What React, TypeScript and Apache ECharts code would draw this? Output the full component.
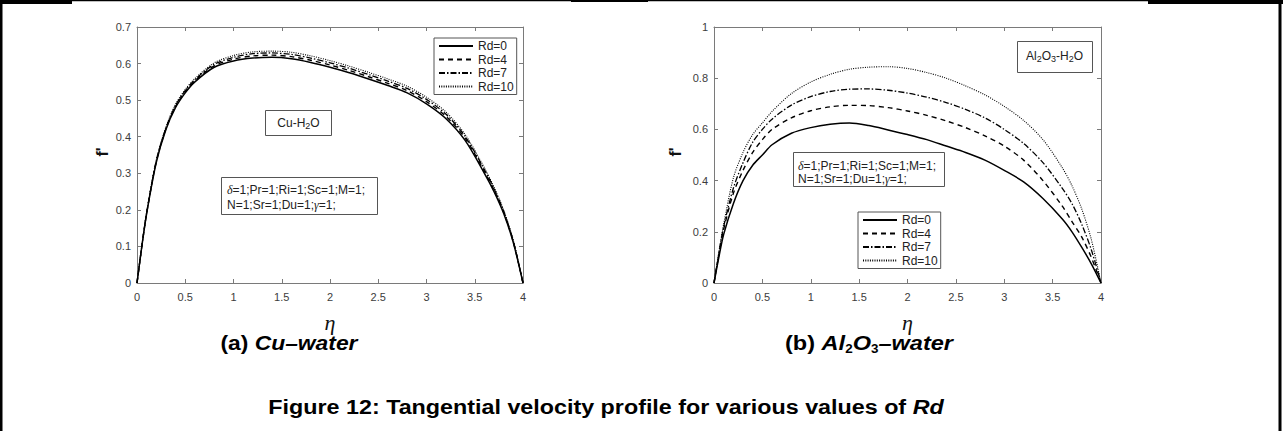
import React, { useEffect, useRef } from "react";
import * as echarts from "echarts";

// ---------- data ----------
const ETA = [0, 0.05, 0.1, 0.2, 0.3, 0.4, 0.5, 0.6, 0.8, 1.0, 1.2, 1.4, 1.6, 1.8, 2.0, 2.2, 2.4, 2.6, 2.8, 3.0, 3.2, 3.4, 3.6, 3.7, 3.8, 3.9, 4.0];
const RD_NAMES = ["Rd=0", "Rd=4", "Rd=7", "Rd=10"];

// (a) Cu-water
const CU_RD0 = [0, 0.1, 0.19, 0.33, 0.42, 0.48, 0.52, 0.55, 0.59, 0.607, 0.615, 0.617, 0.613, 0.603, 0.59, 0.575, 0.558, 0.54, 0.52, 0.49, 0.45, 0.39, 0.3, 0.25, 0.19, 0.11, 0];
const CU_RD4 = [0, 0.1, 0.191, 0.332, 0.422, 0.483, 0.523, 0.553, 0.594, 0.612, 0.621, 0.623, 0.619, 0.609, 0.596, 0.581, 0.564, 0.546, 0.526, 0.496, 0.456, 0.396, 0.305, 0.254, 0.193, 0.112, 0];
const CU_RD7 = [0, 0.1, 0.192, 0.334, 0.424, 0.486, 0.526, 0.556, 0.598, 0.617, 0.627, 0.629, 0.625, 0.615, 0.602, 0.587, 0.57, 0.552, 0.532, 0.502, 0.462, 0.401, 0.31, 0.258, 0.196, 0.114, 0];
const CU_RD10 = [0, 0.1, 0.193, 0.336, 0.426, 0.489, 0.529, 0.559, 0.602, 0.622, 0.632, 0.634, 0.631, 0.621, 0.608, 0.593, 0.576, 0.558, 0.538, 0.508, 0.468, 0.406, 0.315, 0.262, 0.199, 0.116, 0];

// (b) Al2O3-water
const AL_RD0 = [0, 0.1, 0.19, 0.31, 0.4, 0.46, 0.5, 0.54, 0.585, 0.607, 0.62, 0.625, 0.615, 0.598, 0.58, 0.56, 0.535, 0.51, 0.48, 0.44, 0.395, 0.33, 0.25, 0.2, 0.14, 0.075, 0];
const AL_RD4 = [0, 0.11, 0.21, 0.35, 0.44, 0.51, 0.56, 0.6, 0.645, 0.673, 0.688, 0.694, 0.693, 0.685, 0.672, 0.655, 0.633, 0.607, 0.575, 0.535, 0.48, 0.4, 0.3, 0.24, 0.18, 0.1, 0];
const AL_RD7 = [0, 0.115, 0.22, 0.37, 0.47, 0.55, 0.6, 0.64, 0.695, 0.728, 0.748, 0.757, 0.758, 0.753, 0.742, 0.726, 0.705, 0.678, 0.645, 0.6, 0.545, 0.47, 0.37, 0.31, 0.23, 0.13, 0];
const AL_RD10 = [0, 0.12, 0.23, 0.41, 0.51, 0.58, 0.625, 0.67, 0.74, 0.785, 0.815, 0.835, 0.843, 0.845, 0.838, 0.822, 0.8, 0.77, 0.735, 0.69, 0.635, 0.56, 0.45, 0.38, 0.29, 0.17, 0];

const X_MIN = 0;
const X_MAX = 4;
const X_STEP = 0.5;
const CU_Y_MAX = 0.7;
const CU_Y_STEP = 0.1;
const AL_Y_MAX = 1;
const AL_Y_STEP = 0.2;

// ---------- styles ----------
const SANS = '"Liberation Sans", Arial, Helvetica, sans-serif';
const NARROW = '"Liberation Sans Narrow", "Liberation Sans", Arial, sans-serif';
const SERIF = '"Liberation Serif", "DejaVu Serif", serif';
const AXIS_COLOR = "#7a7a7a";
const LABEL_COLOR = "#3c3c3c";

const LINE_STYLES: any[] = [
  { type: "solid", width: 1.5 },
  { type: [5, 4], width: 1.4 },
  { type: [6, 2, 1.5, 2], width: 1.3 },
  { type: [1, 1.3], width: 1.1 },
];

function makeSeries(sets: number[][], xi: number, yi: number) {
  return sets.map((vals, k) => ({
    type: "line",
    name: RD_NAMES[k],
    xAxisIndex: xi,
    yAxisIndex: yi,
    data: ETA.map((e, i) => [e, vals[i]]),
    symbol: "none",
    showSymbol: false,
    smooth: 0.3,
    silent: true,
    lineStyle: { color: "#000", width: LINE_STYLES[k].width, type: LINE_STYLES[k].type },
    itemStyle: { color: "#000" },
  }));
}

function xAxes(grid: number) {
  const base = {
    gridIndex: grid,
    type: "value",
    min: X_MIN,
    max: X_MAX,
    interval: X_STEP,
    splitLine: { show: false },
    axisLine: { show: true, onZero: false, lineStyle: { color: AXIS_COLOR, width: 1 } },
    axisTick: { show: true, inside: true, length: 4, lineStyle: { color: AXIS_COLOR } },
  };
  return [
    { ...base, position: "bottom", axisLabel: { show: true, color: LABEL_COLOR, fontSize: 11, fontFamily: SANS, margin: 8 } },
    { ...base, position: "top", axisLabel: { show: false } },
  ];
}

function yAxes(grid: number, max: number, step: number) {
  const base = {
    gridIndex: grid,
    type: "value",
    min: 0,
    max,
    interval: step,
    splitLine: { show: false },
    axisLine: { show: true, onZero: false, lineStyle: { color: AXIS_COLOR, width: 1 } },
    axisTick: { show: true, inside: true, length: 4, lineStyle: { color: AXIS_COLOR } },
  };
  return [
    { ...base, position: "left", axisLabel: { show: true, color: LABEL_COLOR, fontSize: 11, fontFamily: SANS, margin: 6 } },
    { ...base, position: "right", axisLabel: { show: false } },
  ];
}

function legend(left: number, top: number) {
  return {
    data: RD_NAMES,
    left,
    top,
    orient: "vertical",
    itemWidth: 34,
    itemHeight: 12,
    itemGap: 1.5,
    padding: [2, 3, 2, 4],
    backgroundColor: "#fff",
    borderColor: "#555",
    borderWidth: 1,
    borderRadius: 0,
    selectedMode: false,
    itemStyle: { color: "rgba(0,0,0,0)", borderColor: "rgba(0,0,0,0)", borderWidth: 0, opacity: 0 },
    textStyle: { fontSize: 12, color: "#222", fontFamily: SANS },
  };
}

function box(x: number, y: number, w: number, h: number) {
  return {
    type: "rect",
    silent: true,
    z: 5,
    shape: { x: x + 0.5, y: y + 0.5, width: w, height: h },
    style: { fill: "#fff", stroke: "#555", lineWidth: 1 },
  };
}

const BOX_RICH = {
  n: { fontSize: 12, fontFamily: SANS, lineHeight: 16, fill: "#222" },
  s: { fontSize: 9, fontFamily: SANS, lineHeight: 9, verticalAlign: "bottom", fill: "#222" },
  g: { fontSize: 12, fontFamily: SERIF, fontStyle: "italic", lineHeight: 16, fill: "#222" },
};

function richText(text: string, x: number, y: number, align = "center") {
  return {
    type: "text",
    silent: true,
    z: 6,
    x,
    y,
    style: { text, align, verticalAlign: "middle", fill: "#222", fontSize: 12, fontFamily: SANS, rich: BOX_RICH },
  };
}

type Part = { t: string; k: "n" | "i" | "s" };
const CAP_FONT: any = {
  n: { fontWeight: "bold", fontStyle: "normal", fontSize: 21 },
  i: { fontWeight: "bold", fontStyle: "italic", fontSize: 21 },
  s: { fontWeight: "bold", fontStyle: "normal", fontSize: 12 },
};

function caption(parts: Part[], cx: number, cy: number, target: number) {
  const ctx = document.createElement("canvas").getContext("2d")!;
  let w = 0;
  for (const p of parts) {
    const f = CAP_FONT[p.k];
    ctx.font = `${f.fontStyle} ${f.fontWeight} ${f.fontSize}px ${NARROW}`;
    w += ctx.measureText(p.t).width;
  }
  const sx = w > 0 ? target / w : 1;
  return {
    type: "text",
    silent: true,
    z: 6,
    x: cx,
    y: cy,
    scaleX: sx,
    style: {
      text: parts.map((p) => `{${p.k}|${p.t}}`).join(""),
      align: "center",
      verticalAlign: "middle",
      fill: "#000",
      rich: {
        n: { ...CAP_FONT.n, fontFamily: NARROW, lineHeight: 24, fill: "#000" },
        i: { ...CAP_FONT.i, fontFamily: NARROW, lineHeight: 24, fill: "#000" },
        s: { ...CAP_FONT.s, fontFamily: NARROW, lineHeight: 13, verticalAlign: "bottom", fill: "#000" },
      },
    },
  };
}

export default function App() {
  const ref = useRef<HTMLDivElement>(null);

  useEffect(() => {
    if (!ref.current) return;
    const chart = echarts.init(ref.current, undefined, { renderer: "svg" });

    const graphic: any[] = [
      // outer frame
      { type: "rect", silent: true, shape: { x: 0, y: 0, width: 1283, height: 1.2 }, style: { fill: "#000" } },
      { type: "rect", silent: true, shape: { x: 0, y: 0, width: 72, height: 4 }, style: { fill: "#000" } },
      { type: "rect", silent: true, shape: { x: 571, y: 0, width: 77, height: 2 }, style: { fill: "#000" } },
      { type: "rect", silent: true, shape: { x: 1148, y: 0, width: 135, height: 4 }, style: { fill: "#000" } },
      { type: "rect", silent: true, shape: { x: 0, y: 0, width: 2.5, height: 431 }, style: { fill: "#000" } },
      { type: "rect", silent: true, shape: { x: 1278.5, y: 0, width: 3, height: 431 }, style: { fill: "#000" } },

      // annotation boxes
      box(265, 110, 66, 25),
      richText("{n|Cu-H}{s|2}{n|O}", 298.5, 122.5),
      box(221, 177, 156, 37),
      richText("{g|δ}{n|=1;Pr=1;Ri=1;Sc=1;M=1;}", 227, 189.5, "left"),
      richText("{n|N=1;Sr=1;Du=1;}{g|γ}{n|=1;}", 227, 204.5, "left"),

      box(1017, 41, 75, 31),
      richText("{n|Al}{s|2}{n|O}{s|3}{n|-H}{s|2}{n|O}", 1054.5, 55.5),
      box(793, 152, 151, 34),
      richText("{g|δ}{n|=1;Pr=1;Ri=1;Sc=1;M=1;}", 798, 165.5, "left"),
      richText("{n|N=1;Sr=1;Du=1;}{g|γ}{n|=1;}", 798, 179, "left"),

      // axis names
      { type: "text", silent: true, x: 330, y: 322, style: { text: "η", align: "center", verticalAlign: "middle", fontSize: 22, fontStyle: "italic", fontFamily: SERIF, fill: "#111" } },
      { type: "text", silent: true, x: 907.5, y: 322, style: { text: "η", align: "center", verticalAlign: "middle", fontSize: 22, fontStyle: "italic", fontFamily: SERIF, fill: "#111" } },
      { type: "text", silent: true, x: 102, y: 152, rotation: Math.PI / 2, style: { text: "f'", align: "center", verticalAlign: "middle", fontSize: 16, fontWeight: "bold", fontFamily: SANS, fill: "#111" } },
      { type: "text", silent: true, x: 675, y: 152, rotation: Math.PI / 2, style: { text: "f'", align: "center", verticalAlign: "middle", fontSize: 16, fontWeight: "bold", fontFamily: SANS, fill: "#111" } },

      // captions
      caption([{ t: "(a) ", k: "n" }, { t: "Cu–water", k: "i" }], 289, 343, 137),
      caption(
        [
          { t: "(b) ", k: "n" },
          { t: "Al", k: "i" },
          { t: "2", k: "s" },
          { t: "O", k: "i" },
          { t: "3", k: "s" },
          { t: "–water", k: "i" },
        ],
        869,
        343,
        168
      ),
      caption([{ t: "Figure 12: Tangential velocity profile for various values of ", k: "n" }, { t: "Rd", k: "i" }], 606, 407, 676),
    ];

    const option: any = {
      animation: false,
      backgroundColor: "#fff",
      grid: [
        { left: 137, top: 27, width: 386, height: 256, containLabel: false },
        { left: 714, top: 27, width: 387, height: 256, containLabel: false },
      ],
      xAxis: [...xAxes(0), ...xAxes(1)],
      yAxis: [...yAxes(0, CU_Y_MAX, CU_Y_STEP), ...yAxes(1, AL_Y_MAX, AL_Y_STEP)],
      legend: [legend(434, 38), legend(858, 212)],
      series: [
        ...makeSeries([CU_RD0, CU_RD4, CU_RD7, CU_RD10], 0, 0),
        ...makeSeries([AL_RD0, AL_RD4, AL_RD7, AL_RD10], 2, 2),
      ],
      graphic,
    };

    chart.setOption(option);
    return () => chart.dispose();
  }, []);

  return (
    <div
      ref={ref}
      style={{ position: "fixed", left: 0, top: 0, width: 1283, height: 431, background: "#fff" }}
    />
  );
}
